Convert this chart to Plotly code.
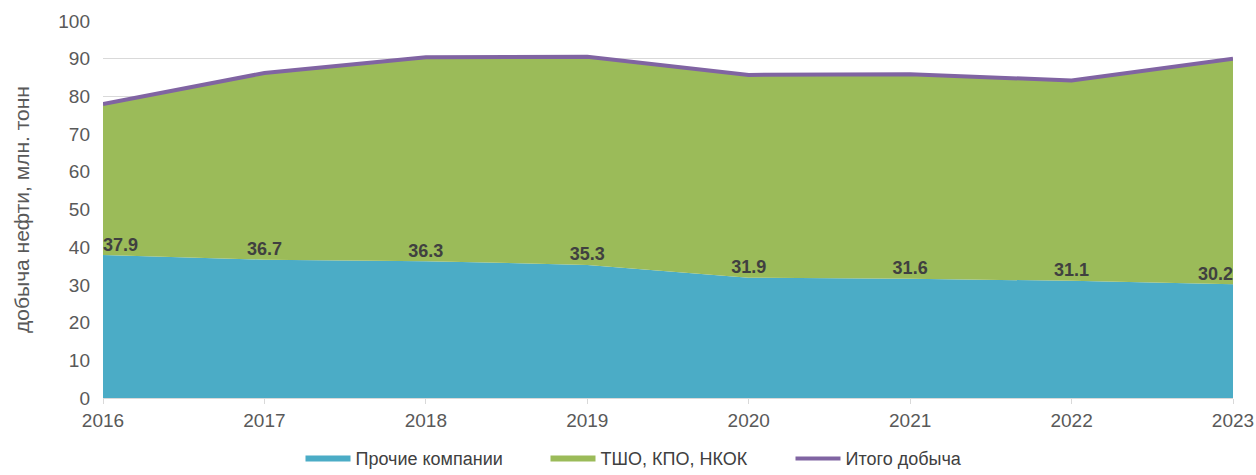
import plotly.graph_objects as go

years = [2016, 2017, 2018, 2019, 2020, 2021, 2022, 2023]
other = [37.9, 36.7, 36.3, 35.3, 31.9, 31.6, 31.1, 30.2]
total = [78.0, 86.2, 90.4, 90.5, 85.7, 85.9, 84.2, 90.0]
majors = [round(t - o, 1) for t, o in zip(total, other)]
label_pos = ["top right"] + ["top center"] * 6 + ["top left"]

fig = go.Figure()
fig.add_trace(go.Scatter(
    x=years, y=other, name="Прочие компании", stackgroup="one",
    mode="none", fillcolor="#4BACC6",
))
fig.add_trace(go.Scatter(
    x=years, y=majors, name="ТШО, КПО, НКОК", stackgroup="one",
    mode="none", fillcolor="#9BBB59",
))
fig.add_trace(go.Scatter(
    x=years, y=total, name="Итого добыча", mode="lines",
    line=dict(color="#8064A2", width=4),
))
fig.add_trace(go.Scatter(
    x=years, y=other, mode="text", text=[f"{v:.1f}" for v in other],
    textposition=label_pos, showlegend=False, hoverinfo="skip",
    textfont=dict(family="Liberation Sans", size=18, color="#404040", weight="bold"),
))

fig.update_layout(
    width=1256, height=475,
    margin=dict(l=103, r=23, t=21, b=77, autoexpand=False),
    plot_bgcolor="white", paper_bgcolor="white",
    font=dict(family="Liberation Sans", size=19, color="#595959"),
    legend=dict(orientation="h", x=0.5, xanchor="center", y=-0.112, yanchor="top",
                itemwidth=45, entrywidth=185,
                font=dict(size=18, color="#404040"), traceorder="normal"),
    xaxis=dict(range=[2016, 2023], tickmode="array", tickvals=years,
               showgrid=False, showline=True, linecolor="#D9D9D9", automargin=False,
               ticks="outside", ticklen=5, tickcolor="#D9D9D9", zeroline=False),
    yaxis=dict(range=[0, 100], dtick=10, showgrid=True, gridcolor="#D9D9D9",
               zeroline=False, ticklabelstandoff=12, automargin=False,
               title=dict(text="добыча нефти, млн. тонн", font=dict(size=21), standoff=22)),
)

fig.write_html("out.html", config={"displayModeBar": False},
               post_script="document.body.style.margin='0';")
